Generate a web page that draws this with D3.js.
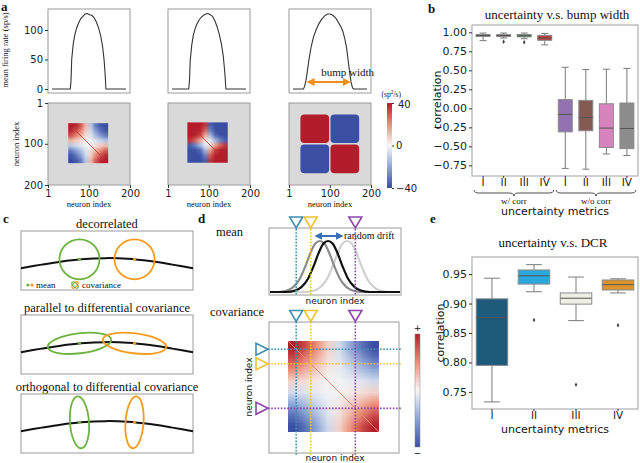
<!DOCTYPE html>
<html>
<head>
<meta charset="utf-8">
<script src="https://cdn.jsdelivr.net/npm/d3@7"></script>
<style>
  body { margin: 0; background: #fff; }
  svg { display: block; }
</style>
</head>
<body>
<svg width="640" height="463"></svg>
<script>
// ---------- panel a : bump profiles (neuron index -> mean firing rate, sp/s)
const bumpIndex1 = [1, 50, 52, 54, 58, 62, 67, 72, 78, 84, 90, 96, 102, 108, 114, 120, 126, 132, 137, 141, 144, 146, 200];
const bumpRate1 = [0, 0, 12, 50, 76, 91, 103, 111, 119, 123, 127, 128, 126, 125, 121, 114, 104, 90, 72, 50, 24, 0, 0];
const bumpIndex2 = [1, 46, 48, 50, 54, 58, 63, 68, 74, 80, 86, 92, 98, 104, 110, 116, 122, 128, 134, 139, 143, 146, 200];
const bumpRate2 = [0, 0, 14, 48, 74, 90, 102, 110, 117, 122, 125, 127, 128, 126, 123, 116, 106, 93, 76, 55, 28, 0, 0];
const bumpIndex3 = [1, 29, 32, 36, 40, 44, 50, 56, 63, 70, 78, 86, 94, 100, 108, 116, 124, 130, 135, 140, 145, 149, 153, 157, 161, 164, 200];
const bumpRate3 = [0, 0, 4, 15, 32, 50, 72, 88, 100, 110, 118, 124, 127, 127, 125, 120, 112, 105, 98, 86, 70, 50, 30, 12, 2, 0, 0];
const rateTicks = [0, 50, 100];
const indexTicks = [1, 100, 200];
const cbarTicks = [40, 0, -40];

// differential covariance maps (normalised, +1 = 40 sp^2/s)
const heatMap1 = [
  [1, 0.95, 0.75, 0.3, -0.3, -0.75, -0.95, -1],
  [0.95, 0.8, 0.55, 0.2, -0.2, -0.55, -0.8, -0.95],
  [0.75, 0.55, 0.35, 0.12, -0.12, -0.35, -0.55, -0.75],
  [0.3, 0.2, 0.12, 0.04, -0.04, -0.12, -0.2, -0.3],
  [-0.3, -0.2, -0.12, -0.04, 0.04, 0.12, 0.2, 0.3],
  [-0.75, -0.55, -0.35, -0.12, 0.12, 0.35, 0.55, 0.75],
  [-0.95, -0.8, -0.55, -0.2, 0.2, 0.55, 0.8, 0.95],
  [-1, -0.95, -0.75, -0.3, 0.3, 0.75, 0.95, 1]
];
const heatMap2 = [
  [1, 1, 1, 0.9, -0.9, -1, -1, -1],
  [1, 1, 0.98, 0.7, -0.7, -0.98, -1, -1],
  [1, 0.98, 0.85, 0.4, -0.4, -0.85, -0.98, -1],
  [0.9, 0.7, 0.4, 0.1, -0.1, -0.4, -0.7, -0.9],
  [-0.9, -0.7, -0.4, -0.1, 0.1, 0.4, 0.7, 0.9],
  [-1, -0.98, -0.85, -0.4, 0.4, 0.85, 0.98, 1],
  [-1, -1, -0.98, -0.7, 0.7, 0.98, 1, 1],
  [-1, -1, -1, -0.9, 0.9, 1, 1, 1]
];
const heatMap3 = [
  [1, -1],
  [-1, 1]
];
const heatExtent = [[50, 147], [48, 146], [27, 173]];
const diagExtent = [[70, 128], [78, 115], null];

// ---------- panel b
const bMetrics = ["I", "II", "III", "IV"];
const bGroups = ["w/ corr", "w/o corr"];
const bLow = [0.89, 0.925, 0.915, 0.835, -0.79, -0.8, -0.6, -0.62];
const bQ1 = [0.945, 0.945, 0.94, 0.895, -0.31, -0.295, -0.515, -0.53];
const bMedian = [0.958, 0.957, 0.955, 0.925, -0.08, -0.12, -0.26, -0.265];
const bQ3 = [0.97, 0.97, 0.97, 0.96, 0.115, 0.105, 0.06, 0.07];
const bHigh = [0.99, 0.99, 0.99, 0.985, 0.54, 0.51, 0.515, 0.525];
const bFliers = [[], [0.875], [0.87], [], [], [], [], []];
const bTicks = [1.0, 0.75, 0.5, 0.25, 0.0, -0.25, -0.5, -0.75];

// ---------- panel c : schematic manifold
const cCurveX = [0, 0.12, 0.23, 0.35, 0.49, 0.62, 0.75, 0.88, 1];
const cCurveY = [0.37, 0.43, 0.48, 0.52, 0.54, 0.53, 0.49, 0.43, 0.37];
const cMeanX = [0.34, 0.66];
const cMeanY = [0.52, 0.52];
const cTitles = ["decorrelated", "parallel to differential covariance", "orthogonal to differential covariance"];

// ---------- panel d
const dMarkers = [0.09, 0.25, 0.74];
const dCenters = [0.65, 0.35, 0.44]; // light gray, dark gray, black
const dProfileOffset = [-0.46, -0.36, -0.29, -0.22, -0.16, -0.1, -0.05, 0, 0.05, 0.1, 0.16, 0.22, 0.29, 0.36, 0.46];
const dProfileValue = [0, 0.03, 0.1, 0.26, 0.5, 0.78, 0.95, 1, 0.95, 0.78, 0.5, 0.26, 0.1, 0.03, 0];
const dCov = [
  [1, 0.8, 0.5, 0.18, -0.18, -0.5, -0.8, -1],
  [0.8, 0.58, 0.35, 0.12, -0.12, -0.35, -0.58, -0.8],
  [0.5, 0.35, 0.2, 0.07, -0.07, -0.2, -0.35, -0.5],
  [0.18, 0.12, 0.07, 0.02, -0.02, -0.07, -0.12, -0.18],
  [-0.18, -0.12, -0.07, -0.02, 0.02, 0.07, 0.12, 0.18],
  [-0.5, -0.35, -0.2, -0.07, 0.07, 0.2, 0.35, 0.5],
  [-0.8, -0.58, -0.35, -0.12, 0.12, 0.35, 0.58, 0.8],
  [-1, -0.8, -0.5, -0.18, 0.18, 0.5, 0.8, 1]
];

// ---------- panel e
const eMetrics = ["I", "II", "III", "IV"];
const eLow = [0.733, 0.92, 0.871, 0.918];
const eQ1 = [0.795, 0.933, 0.899, 0.923];
const eMedian = [0.876, 0.947, 0.909, 0.932];
const eQ3 = [0.908, 0.957, 0.918, 0.94];
const eHigh = [0.943, 0.966, 0.945, 0.942];
const eFliers = [[], [0.872], [0.762], [0.863]];
const eTicks = [0.95, 0.9, 0.85, 0.8, 0.75];

const serif = '"Liberation Serif", "DejaVu Serif", serif';
const sans = '"DejaVu Sans", sans-serif';
const frameColor = "#9a9a9a";

const svg = d3.select("svg");

const heatColor = d3
  .scaleLinear()
  .domain([-1, -0.5, 0, 0.5, 1])
  .range(["#3a4ea3", "#8ea6d8", "#f7f7f7", "#ec8f78", "#b31d2b"])
  .clamp(true);

function heatImage(matrix) {
  const n = matrix.length,
    m = matrix[0].length;
  const canvas = document.createElement("canvas");
  canvas.width = m;
  canvas.height = n;
  const ctx = canvas.getContext("2d");
  const img = ctx.createImageData(m, n);
  matrix.forEach(function (row, i) {
    row.forEach(function (v, j) {
      const c = d3.rgb(heatColor(v));
      const k = (i * m + j) * 4;
      img.data[k] = c.r;
      img.data[k + 1] = c.g;
      img.data[k + 2] = c.b;
      img.data[k + 3] = 255;
    });
  });
  ctx.putImageData(img, 0, 0);
  return canvas.toDataURL();
}

function styleAxis(g, size) {
  g.select(".domain").remove();
  g.selectAll(".tick line").attr("stroke", "#333");
  g.selectAll("text").attr("font-family", sans).attr("font-size", size).attr("fill", "#222");
}

function label(x, y, txt, opts) {
  opts = opts || {};
  const t = svg
    .append("text")
    .attr("x", x)
    .attr("y", y)
    .attr("font-family", opts.family || serif)
    .attr("font-size", opts.size || 12)
    .attr("text-anchor", opts.anchor || "start")
    .attr("fill", opts.fill || "#111")
    .text(txt);
  if (opts.bold) t.attr("font-weight", "bold");
  if (opts.rotate) t.attr("transform", "rotate(-90," + x + "," + y + ")");
  return t;
}

// ================= panel a =================
const aLeft = [48, 168, 289];
const aW = 82;
const bumps = [
  [bumpIndex1, bumpRate1],
  [bumpIndex2, bumpRate2],
  [bumpIndex3, bumpRate3]
];
const lineY = d3.scaleLinear().domain([-6.8, 135.6]).range([93, 9]);

bumps.forEach(function (b, k) {
  const x = d3.scaleLinear().domain([1, 200]).range([aLeft[k] + 4, aLeft[k] + aW - 4]);
  svg.append("rect").attr("x", aLeft[k]).attr("y", 9).attr("width", aW).attr("height", 84)
    .attr("fill", "none").attr("stroke", frameColor);
  svg.append("path")
    .datum(d3.zip(b[0], b[1]))
    .attr("d", d3.line().x(function (d) { return x(d[0]); }).y(function (d) { return lineY(d[1]); }))
    .attr("fill", "none").attr("stroke", "#333").attr("stroke-width", 1.1);
  if (k === 0) {
    const ax = svg.append("g").attr("transform", "translate(" + aLeft[k] + ",0)")
      .call(d3.axisLeft(lineY).tickValues(rateTicks).tickSize(3).tickPadding(2));
    styleAxis(ax, 10);
  }
  if (k === 2) {
    // bump width arrow
    const defs = svg.append("defs");
    defs.append("marker").attr("id", "oarrow").attr("viewBox", "0 0 10 10").attr("refX", 8).attr("refY", 5)
      .attr("markerWidth", 4).attr("markerHeight", 4).attr("orient", "auto-start-reverse")
      .append("path").attr("d", "M0,0 L10,5 L0,10 z").attr("fill", "#ee8e1c");
    svg.append("line").attr("x1", x(42)).attr("x2", x(152)).attr("y1", 82).attr("y2", 82)
      .attr("stroke", "#ee8e1c").attr("stroke-width", 2)
      .attr("marker-start", "url(#oarrow)").attr("marker-end", "url(#oarrow)");
    label(x(77), 76, "bump width", { size: 11 });
  }
});
label(8, 50, "mean firing rate (sp/s)", { size: 8.5, anchor: "middle", rotate: true });

const heatMaps = [heatMap1, heatMap2, heatMap3];
heatMaps.forEach(function (mat, k) {
  const hx = d3.scaleLinear().domain([1, 200]).range([aLeft[k], aLeft[k] + aW]);
  const hy = d3.scaleLinear().domain([1, 200]).range([103, 185]);
  svg.append("rect").attr("x", aLeft[k]).attr("y", 103).attr("width", aW).attr("height", 82)
    .attr("fill", "#d9d9d9").attr("stroke", frameColor);
  const ext = heatExtent[k];
  if (k < 2) {
    svg.append("image")
      .attr("href", heatImage(mat))
      .attr("x", hx(ext[0])).attr("y", hy(ext[0]))
      .attr("width", hx(ext[1]) - hx(ext[0])).attr("height", hy(ext[1]) - hy(ext[0]))
      .attr("preserveAspectRatio", "none");
    const de = diagExtent[k];
    svg.append("line").attr("x1", hx(de[0])).attr("y1", hy(de[0])).attr("x2", hx(de[1])).attr("y2", hy(de[1]))
      .attr("stroke", "#c0392b").attr("stroke-width", 0.8);
  } else {
    const mid = (ext[0] + ext[1]) / 2;
    const edges = [[ext[0], mid], [mid, ext[1]]];
    mat.forEach(function (row, i) {
      row.forEach(function (v, j) {
        svg.append("rect")
          .attr("x", hx(edges[j][0]) + 0.7).attr("y", hy(edges[i][0]) + 0.7)
          .attr("width", hx(edges[j][1]) - hx(edges[j][0]) - 1.4)
          .attr("height", hy(edges[i][1]) - hy(edges[i][0]) - 1.4)
          .attr("rx", 4).attr("fill", heatColor(v));
      });
    });
  }
  const ax = svg.append("g").attr("transform", "translate(0,185)")
    .call(d3.axisBottom(hx).tickValues(indexTicks).tickSize(3).tickPadding(2));
  styleAxis(ax, 10);
  if (k === 0) {
    const ay = svg.append("g").attr("transform", "translate(" + aLeft[k] + ",0)")
      .call(d3.axisLeft(hy).tickValues(indexTicks).tickSize(3).tickPadding(2));
    styleAxis(ay, 10);
    label(19, 144, "neuron index", { size: 8.5, anchor: "middle", rotate: true });
  }
  label(aLeft[k] + aW / 2, 207, "neuron index", { size: 8.5, anchor: "middle" });
});

// colour bar for a
const grad = svg.append("defs").append("linearGradient").attr("id", "cbar")
  .attr("x1", 0).attr("y1", 1).attr("x2", 0).attr("y2", 0);
d3.range(0, 1.001, 0.1).forEach(function (t) {
  grad.append("stop").attr("offset", t).attr("stop-color", heatColor(t * 2 - 1));
});
const cbY = d3.scaleLinear().domain([-40, 40]).range([188, 103]);
svg.append("rect").attr("x", 387).attr("y", 103).attr("width", 5).attr("height", 85).attr("fill", "url(#cbar)");
const cbAx = svg.append("g").attr("transform", "translate(392,0)")
  .call(d3.axisRight(cbY).tickValues(cbarTicks).tickSize(2).tickPadding(2).tickFormat(function (d) {
    return d < 0 ? "\u2212" + Math.abs(d) : d;
  }));
styleAxis(cbAx, 10);
cbAx.selectAll(".tick").filter(function (d) { return d === 40; }).select("text").attr("x", 6).attr("dy", "0.45em");
const unit = label(401, 97, "(sp", { size: 7.5, anchor: "end" });
unit.append("tspan").attr("dy", -3).attr("font-size", 5.5).text("2");
unit.append("tspan").attr("dy", 3).text("/s)");

// ================= panel b & e boxplots =================
function drawBoxes(x, y, cats, st, colors) {
  const bw = x.bandwidth();
  cats.forEach(function (c, i) {
    const cx = x(c) + bw / 2;
    const g = svg.append("g");
    g.append("line").attr("x1", cx).attr("x2", cx).attr("y1", y(st.low[i])).attr("y2", y(st.q1[i]));
    g.append("line").attr("x1", cx).attr("x2", cx).attr("y1", y(st.q3[i])).attr("y2", y(st.high[i]));
    g.append("line").attr("x1", cx - bw / 4).attr("x2", cx + bw / 4).attr("y1", y(st.low[i])).attr("y2", y(st.low[i]));
    g.append("line").attr("x1", cx - bw / 4).attr("x2", cx + bw / 4).attr("y1", y(st.high[i])).attr("y2", y(st.high[i]));
    g.selectAll("line").attr("stroke", "#7a7a7a").attr("stroke-width", 1);
    g.append("rect").attr("x", x(c)).attr("y", y(st.q3[i])).attr("width", bw)
      .attr("height", y(st.q1[i]) - y(st.q3[i])).attr("fill", colors[i])
      .attr("stroke", "#8a8a8a").attr("stroke-width", 1);
    g.append("line").attr("x1", x(c)).attr("x2", x(c) + bw).attr("y1", y(st.median[i])).attr("y2", y(st.median[i]))
      .attr("stroke", "#555").attr("stroke-width", 1);
    st.fliers[i].forEach(function (v) {
      g.append("path").attr("d", d3.symbol(d3.symbolDiamond, 6)).attr("transform", "translate(" + cx + "," + y(v) + ")")
        .attr("fill", "#444");
    });
  });
}

function plotFrame(x0, y0, w, h) {
  svg.append("rect").attr("x", x0).attr("y", y0).attr("width", w).attr("height", h)
    .attr("fill", "none").attr("stroke", "#b0b0b0").attr("stroke-width", 1.2);
}

// panel b
const bCats = bGroups.flatMap(function (g) {
  return bMetrics.map(function (m) { return g + " " + m; });
});
const bx = d3.scaleBand().domain(bCats).range([472, 638]).paddingInner(0.32).paddingOuter(0.2);
const by = d3.scaleLinear().domain([-0.89, 1.096]).range([176, 25]);
plotFrame(472, 25, 166, 151);
drawBoxes(bx, by, bCats, { low: bLow, q1: bQ1, median: bMedian, q3: bQ3, high: bHigh, fliers: bFliers },
  ["#3274a1", "#e1812c", "#3a923a", "#c03d3e", "#9372b2", "#845b53", "#d684bd", "#8c8c8c"]);
const bAy = svg.append("g").attr("transform", "translate(472,0)")
  .call(d3.axisLeft(by).tickValues(bTicks).tickSize(3).tickPadding(2).tickFormat(function (d) {
    return (d < 0 ? "\u2212" : "") + Math.abs(d).toFixed(2);
  }));
styleAxis(bAy, 11);
const bAx = svg.append("g").attr("transform", "translate(0,176)")
  .call(d3.axisBottom(bx).tickSize(2).tickPadding(1).tickFormat(function (d, i) {
    return bMetrics[i % 4];
  }));
styleAxis(bAx, 10.5);

function bracePath(x1, x2, y, h) {
  const mx = (x1 + x2) / 2,
    q = h / 2;
  return "M" + x1 + "," + y + " Q" + x1 + "," + (y + q) + " " + (x1 + 5) + "," + (y + q) +
    " L" + (mx - 5) + "," + (y + q) + " Q" + mx + "," + (y + q) + " " + mx + "," + (y + h) +
    " Q" + mx + "," + (y + q) + " " + (mx + 5) + "," + (y + q) +
    " L" + (x2 - 5) + "," + (y + q) + " Q" + x2 + "," + (y + q) + " " + x2 + "," + y;
}
bGroups.forEach(function (g, k) {
  const x1 = bx(bCats[k * 4]) - 2,
    x2 = bx(bCats[k * 4 + 3]) + bx.bandwidth() + 2;
  svg.append("path").attr("d", bracePath(x1, x2, 190, 6)).attr("fill", "none")
    .attr("stroke", "#222").attr("stroke-width", 0.8);
  label((x1 + x2) / 2, 204, g, { size: 9, anchor: "middle" });
});
label(555, 215, "uncertainty metrics", { family: sans, size: 11, anchor: "middle" });
label(441, 100, "correlation", { family: sans, size: 11, anchor: "middle", rotate: true });
label(557, 19, "uncertainty v.s. bump width", { size: 13, anchor: "middle" });

// panel e
const ex = d3.scaleBand().domain(eMetrics).range([472, 638]).paddingInner(0.25).paddingOuter(0.1);
const ey = d3.scaleLinear().domain([0.721, 0.979]).range([409, 257]);
plotFrame(472, 257, 166, 152);
drawBoxes(ex, ey, eMetrics, { low: eLow, q1: eQ1, median: eMedian, q3: eQ3, high: eHigh, fliers: eFliers },
  ["#1e5a7a", "#2ca7dc", "#eeeee4", "#d9952b"]);
const eAy = svg.append("g").attr("transform", "translate(472,0)")
  .call(d3.axisLeft(ey).tickValues(eTicks).tickSize(3).tickPadding(2).tickFormat(d3.format(".2f")));
styleAxis(eAy, 11);
const eAx = svg.append("g").attr("transform", "translate(0,409)")
  .call(d3.axisBottom(ex).tickSize(2).tickPadding(1));
styleAxis(eAx, 10.5);
label(555, 433, "uncertainty metrics", { family: sans, size: 11, anchor: "middle" });
label(444, 333, "correlation", { family: sans, size: 11, anchor: "middle", rotate: true });
label(553, 247, "uncertainty v.s. DCR", { size: 13, anchor: "middle" });

// ================= panel c =================
const cBoxTop = [231, 315, 394];
const cShapes = [
  [{ rx: 20, ry: 20, tilt: 0 }, { rx: 20, ry: 20, tilt: 0 }],
  [{ rx: 32, ry: 10, tilt: -7 }, { rx: 32, ry: 10, tilt: 7 }],
  [{ rx: 9.5, ry: 26, tilt: -4 }, { rx: 9, ry: 26, tilt: 4 }]
];
const cColors = ["#6cb33f", "#f39c1f"];
const cx = d3.scaleLinear().domain([0, 1]).range([21, 193]);
cBoxTop.forEach(function (top, k) {
  const cy = d3.scaleLinear().domain([0, 1]).range([top + 59, top]);
  label(107, top - 3, cTitles[k], { size: 12.5, anchor: "middle" });
  svg.append("rect").attr("x", 21).attr("y", top).attr("width", 172).attr("height", 59)
    .attr("fill", "none").attr("stroke", frameColor);
  svg.append("path")
    .datum(d3.zip(cCurveX, cCurveY))
    .attr("d", d3.line().curve(d3.curveCatmullRom).x(function (d) { return cx(d[0]); }).y(function (d) { return cy(d[1]); }))
    .attr("fill", "none").attr("stroke", "#111").attr("stroke-width", 2);
  cMeanX.forEach(function (mx, i) {
    const s = cShapes[k][i];
    svg.append("ellipse").attr("cx", 0).attr("cy", 0).attr("rx", s.rx).attr("ry", s.ry)
      .attr("transform", "translate(" + cx(mx) + "," + cy(cMeanY[i]) + ") rotate(" + s.tilt + ")")
      .attr("fill", "none").attr("stroke", cColors[i]).attr("stroke-width", 1.8);
    svg.append("circle").attr("cx", cx(mx)).attr("cy", cy(cMeanY[i])).attr("r", 1.6).attr("fill", cColors[i]);
  });
});
// legend in first box
svg.append("circle").attr("cx", 28).attr("cy", 285).attr("r", 1.6).attr("fill", cColors[0]);
svg.append("circle").attr("cx", 32).attr("cy", 285).attr("r", 1.6).attr("fill", cColors[1]);
label(36, 288, "mean", { size: 9 });
svg.append("ellipse").attr("cx", 0).attr("cy", 0).attr("rx", 2).attr("ry", 4).attr("transform", "translate(75,285) rotate(45)")
  .attr("fill", "none").attr("stroke", cColors[1]).attr("stroke-width", 1.2);
svg.append("ellipse").attr("cx", 0).attr("cy", 0).attr("rx", 2).attr("ry", 4).attr("transform", "translate(75,285) rotate(-45)")
  .attr("fill", "none").attr("stroke", cColors[0]).attr("stroke-width", 1.2);
label(82, 288, "covariance", { size: 9 });

// ================= panel d =================
const dx = d3.scaleLinear().domain([0, 1]).range([288, 379]);
const dMeanY = d3.scaleLinear().domain([0, 1]).range([292, 241]);
const dCovY = d3.scaleLinear().domain([0, 1]).range([341, 432]);
const dMarkColors = ["#3d8fb1", "#f2c12e", "#8e44ad"];
const dCurveColors = ["#d0d0d0", "#8c8c8c", "#111"];

label(216, 236, "mean", { size: 12.5 });
svg.append("rect").attr("x", 269).attr("y", 228).attr("width", 132).attr("height", 67)
  .attr("fill", "none").attr("stroke", frameColor);
dCenters.forEach(function (c, i) {
  const pts = [[dx.invert(270), 0]].concat(d3.zip(dProfileOffset.map(function (o) { return o + c; }), dProfileValue))
    .concat([[dx.invert(400), 0]]);
  svg.append("path").datum(pts)
    .attr("d", d3.line().curve(d3.curveMonotoneX).x(function (d) { return dx(d[0]); }).y(function (d) { return dMeanY(d[1]); }))
    .attr("fill", "none").attr("stroke", dCurveColors[i]).attr("stroke-width", 2.2);
});
// random drift arrow
const bdefs = svg.append("defs");
bdefs.append("marker").attr("id", "barrow").attr("viewBox", "0 0 10 10").attr("refX", 8).attr("refY", 5)
  .attr("markerWidth", 4).attr("markerHeight", 4).attr("orient", "auto-start-reverse")
  .append("path").attr("d", "M0,0 L10,5 L0,10 z").attr("fill", "#3a6fb8");
svg.append("line").attr("x1", 316).attr("x2", 342).attr("y1", 236).attr("y2", 236)
  .attr("stroke", "#3a6fb8").attr("stroke-width", 2)
  .attr("marker-start", "url(#barrow)").attr("marker-end", "url(#barrow)");
label(344, 239, "random drift", { size: 10 });
label(335, 304, "neuron index", { family: sans, size: 9, anchor: "middle" });

label(210, 316, "covariance", { size: 12.5 });
svg.append("rect").attr("x", 269).attr("y", 322).attr("width", 130).attr("height", 131)
  .attr("fill", "none").attr("stroke", frameColor);
svg.append("image").attr("href", heatImage(dCov))
  .attr("x", dx(0)).attr("y", dCovY(0)).attr("width", dx(1) - dx(0)).attr("height", dCovY(1) - dCovY(0))
  .attr("preserveAspectRatio", "none");
svg.append("line").attr("x1", dx(0)).attr("y1", dCovY(0)).attr("x2", dx(1)).attr("y2", dCovY(1))
  .attr("stroke", "#ec8a70").attr("stroke-width", 1);

function tri(cx0, cy0, dir, color) {
  // dir "down": top edge at cy0 ; dir "right": left edge at cx0
  let d;
  if (dir === "down") d = "M" + (cx0 - 6.5) + "," + cy0 + " L" + (cx0 + 6.5) + "," + cy0 + " L" + cx0 + "," + (cy0 + 11) + "Z";
  else d = "M" + cx0 + "," + (cy0 - 6) + " L" + cx0 + "," + (cy0 + 6) + " L" + (cx0 + 12) + "," + cy0 + "Z";
  svg.append("path").attr("d", d).attr("fill", "#fff").attr("stroke", color).attr("stroke-width", 1.6);
}
dMarkers.forEach(function (m, i) {
  const col = dMarkColors[i];
  const dash = "1.6,1.6";
  svg.append("line").attr("x1", dx(m)).attr("x2", dx(m)).attr("y1", 229).attr("y2", 295)
    .attr("stroke", col).attr("stroke-width", 1.6).attr("stroke-dasharray", dash);
  svg.append("line").attr("x1", dx(m)).attr("x2", dx(m)).attr("y1", 322).attr("y2", 455)
    .attr("stroke", col).attr("stroke-width", 1.6).attr("stroke-dasharray", dash);
  svg.append("line").attr("x1", 268).attr("x2", 401).attr("y1", dCovY(m)).attr("y2", dCovY(m))
    .attr("stroke", col).attr("stroke-width", 1.6).attr("stroke-dasharray", dash);
  tri(dx(m), 217, "down", col);
  tri(dx(m), 310.5, "down", col);
  tri(256, dCovY(m), "right", col);
});
label(252, 387, "neuron index", { family: sans, size: 9, anchor: "middle", rotate: true });
label(335, 461, "neuron index", { family: sans, size: 9, anchor: "middle" });

// colour bar for d
svg.append("rect").attr("x", 415).attr("y", 334).attr("width", 5).attr("height", 113)
  .attr("fill", "url(#cbar)").attr("stroke", "#888").attr("stroke-width", 0.5);
label(417.5, 331, "+", { family: sans, size: 9, anchor: "middle" });
label(417.5, 456, "\u2212", { family: sans, size: 9, anchor: "middle" });

// panel letters
label(1, 11, "a", { size: 13, bold: true });
label(428, 13, "b", { size: 13, bold: true });
label(3, 223, "c", { size: 13, bold: true });
label(198, 223, "d", { size: 13, bold: true });
label(430, 223, "e", { size: 13, bold: true });
</script>
</body>
</html>
